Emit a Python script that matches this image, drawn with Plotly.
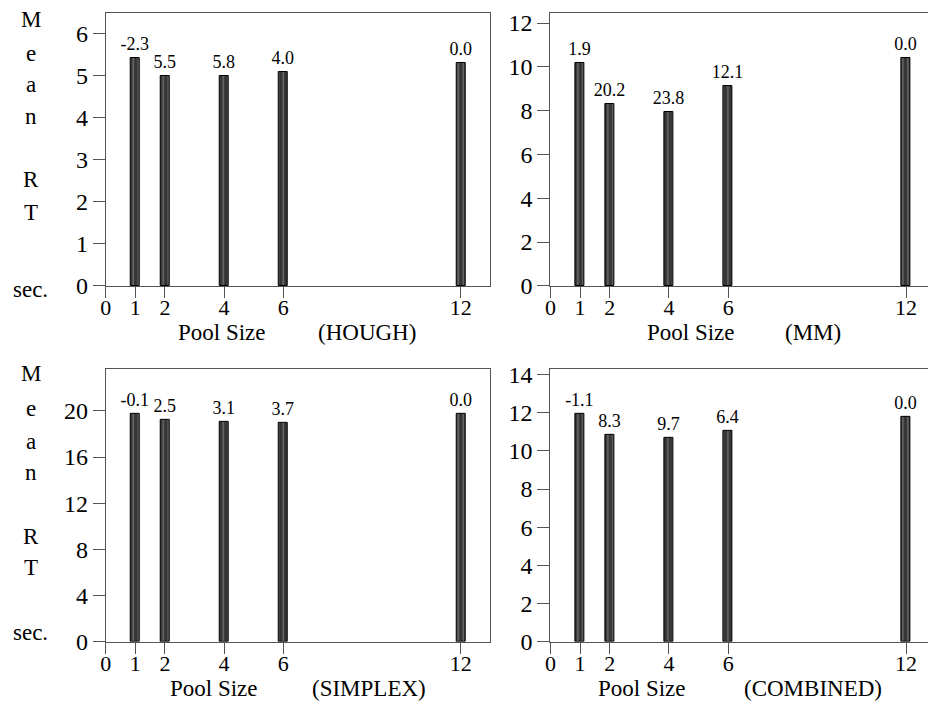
import plotly.graph_objects as go

pool_sizes = [1, 2, 4, 6, 12]
tick_vals = [0, 1, 2, 4, 6, 12]

hough_rt = [5.42, 5.01, 4.99, 5.09, 5.30]
hough_labels = ["-2.3", "5.5", "5.8", "4.0", "0.0"]

mm_rt = [10.20, 8.30, 7.92, 9.14, 10.40]
mm_labels = ["1.9", "20.2", "23.8", "12.1", "0.0"]

simplex_rt = [19.72, 19.21, 19.09, 18.97, 19.70]
simplex_labels = ["-0.1", "2.5", "3.1", "3.7", "0.0"]

combined_rt = [11.93, 10.82, 10.66, 11.04, 11.80]
combined_labels = ["-1.1", "8.3", "9.7", "6.4", "0.0"]

panel_names = ["(HOUGH)", "(MM)", "(SIMPLEX)", "(COMBINED)"]

W, H = 928, 704
FONT = "Liberation Serif"
LINE = "#555555"

def px_x(p):
    return min(1.0, max(0.0, (p - 5.2) / 0.9943 / W))

def px_y(p):
    return min(1.0, max(0.0, 1 - (p - 7.0) / 0.972 / H))

panels = [
    dict(vals=hough_rt, labels=hough_labels, yr=[0, 6.5], dt=1, xd=[105, 490], yd=[13, 286], xr=[0, 13], ymirror=True),
    dict(vals=mm_rt, labels=mm_labels, yr=[0, 12.46], dt=2, xd=[550, 928], yd=[13, 286], xr=[0, 12.74], ymirror=False),
    dict(vals=simplex_rt, labels=simplex_labels, yr=[0, 23.64], dt=4, xd=[105, 490], yd=[369, 642], xr=[0, 13], ymirror=True),
    dict(vals=combined_rt, labels=combined_labels, yr=[0, 14.3], dt=2, xd=[550, 928], yd=[369, 642], xr=[0, 12.74], ymirror=False),
]

fig = go.Figure()
for i, p in enumerate(panels):
    n = "" if i == 0 else str(i + 1)
    fig.add_trace(go.Bar(
        x=pool_sizes, y=p["vals"], width=0.3,
        marker=dict(color="#333333", line=dict(color="#000000", width=1),
                    pattern=dict(shape="|", fgcolor="#6e6e6e", bgcolor="#333333",
                                 size=5, solidity=0.3, fillmode="replace")),
        text=p["labels"], textposition="outside", constraintext="none",
        textfont=dict(family=FONT, size=18, color="#000000"),
        cliponaxis=False, xaxis="x" + n, yaxis="y" + n, showlegend=False,
    ))
    fig.layout["xaxis" + n] = dict(
        domain=[px_x(p["xd"][0]), px_x(p["xd"][1])], range=p["xr"],
        anchor="y" + n, tickmode="array", tickvals=tick_vals,
        ticks="outside", ticklen=11, tickcolor=LINE, showline=True,
        linecolor=LINE, linewidth=1, mirror=True, showgrid=False, zeroline=False,
        tickfont=dict(family=FONT, size=22, color="#000000"),
        ticklabelstandoff=-9,
    )
    fig.layout["yaxis" + n] = dict(
        domain=[px_y(p["yd"][1]), px_y(p["yd"][0])], range=p["yr"],
        anchor="x" + n, dtick=p["dt"], tick0=0,
        ticks="outside", ticklen=12, tickcolor=LINE, showline=True,
        linecolor=LINE, linewidth=1, mirror=p["ymirror"], showgrid=False, zeroline=False,
        tickfont=dict(family=FONT, size=24, color="#000000"),
    )

annotations = []
def ann(text, x, y, size=23):
    annotations.append(dict(text=text, x=px_x(x), y=px_y(y), xref="paper", yref="paper",
                            showarrow=False, xanchor="center", yanchor="middle",
                            font=dict(family=FONT, size=size, color="#000000")))

for ys in [[20, 54, 85, 117, 180, 213, 290], [374, 409, 442, 473, 537, 568, 633]]:
    for letter, y in zip(["M", "e", "a", "n", "R", "T", "sec."], ys):
        ann(letter, 30, y)

ann("Pool Size", 221, 333, 23)
ann(panel_names[0], 366, 333, 23)
ann("Pool Size", 691, 333, 23)
ann(panel_names[1], 813, 333, 23)
ann("Pool Size", 213, 689, 23)
ann(panel_names[2], 368, 689, 23)
ann("Pool Size", 642, 689, 23)
ann(panel_names[3], 813, 689, 23)

fig.update_layout(
    width=W, height=H, margin=dict(l=0, r=0, t=0, b=0),
    paper_bgcolor="white", plot_bgcolor="white",
    annotations=annotations, bargap=0,
)
post = (
    "document.documentElement.style.overflow='hidden';"
    "document.body.style.margin='0';"
    "document.body.style.padding='0';"
    "document.body.style.overflow='hidden';"
)
fig.write_html("out.html", config={"displayModeBar": False}, post_script=post)
